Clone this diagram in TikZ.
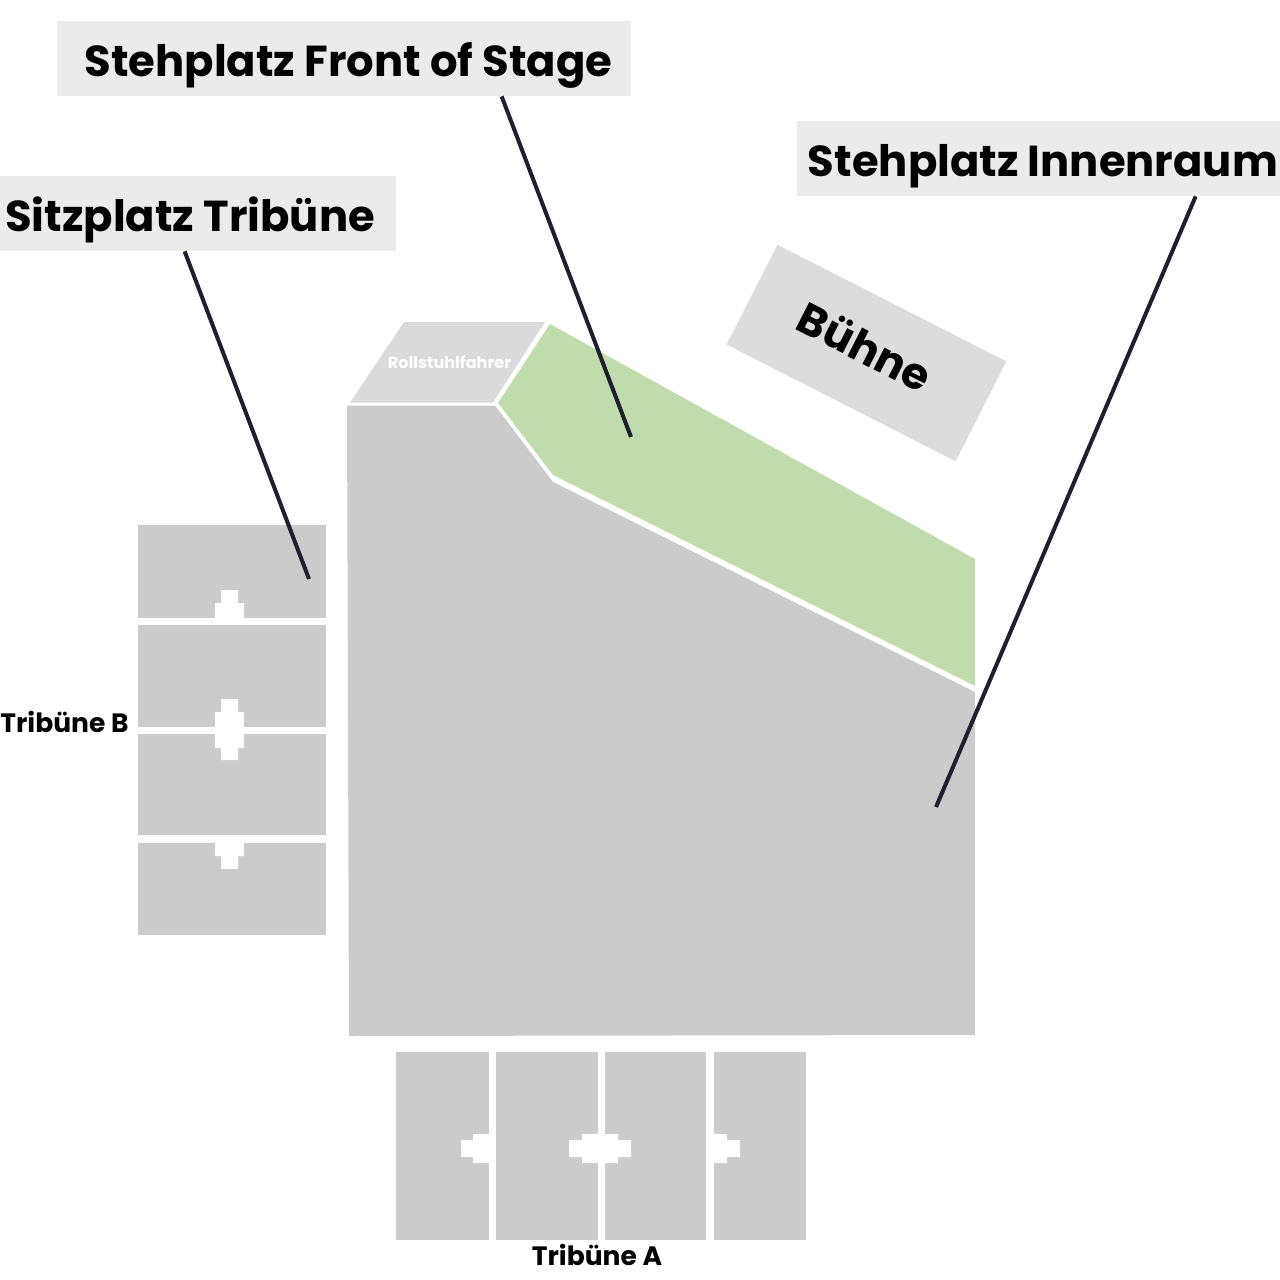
\documentclass[tikz,border=0pt]{standalone}
\usepackage{fontspec}
\setmainfont{Poppins}
\definecolor{seatgray}{HTML}{CBCBCB}
\definecolor{wheelgray}{HTML}{DADADA}
\definecolor{stagegray}{HTML}{DCDCDC}
\definecolor{frontgreen}{HTML}{C1DCAC}
\definecolor{boxgray}{HTML}{EBEBEB}
\definecolor{leadercol}{HTML}{1F1F2E}
\def\px{0.02cm}
\newcommand{\lowertext}[1]{\raisebox{-10.4pt}[0pt][0pt]{#1}}
\tikzset{
  labelbox/.style={fill=boxgray,inner sep=0pt,font=\fontsize{24.65}{28}\selectfont\bfseries,text=black},
  leader/.style={draw=leadercol,line width=4*\px},
  seatblock/.style={fill=seatgray},
  sidelabel/.style={inner sep=0pt,font=\fontsize{15.1}{18}\selectfont\bfseries,text=black}
}
\begin{document}
\begin{tikzpicture}[x=\px,y=-\px]
  \useasboundingbox (0,0) rectangle (1280,1280);
  % main floor
  \fill[seatblock] (347,405.5) -- (495,405.5) -- (553,482) -- (975,692) -- (975,1035) -- (349,1036) -- cycle;
  \fill[frontgreen] (550,324) -- (975,559) -- (975,686) -- (553,475) -- (498,403) -- cycle;
  \fill[wheelgray] (404,322) -- (545,322) -- (493,402.5) -- (350,402.5) -- cycle;
  \node[white,inner sep=0pt,font=\fontsize{9.15}{11}\selectfont\bfseries] (wheel) at (449.5,362) {Rollstuhlfahrer};
  % stage
  \node[fill=stagegray,rotate=-27,minimum width=257*\px,minimum height=112*\px,inner sep=0pt,font=\fontsize{24.8}{28}\selectfont\bfseries] (stage) at (866.5,353) {\raisebox{6pt}{Bühne}\hspace*{4.5pt}};
  % tribune B
  \foreach \ya/\yb in {525/618,625/727,734/835,843/935}
    \fill[seatblock] (138,\ya) rectangle (326,\yb);
  \fill[white] (221,590) -- (238,590) -- (238,603) -- (244,603) -- (244,618) -- (215,618) -- (215,603) -- (221,603) -- cycle;
  \fill[white] (221,699) -- (238,699) -- (238,712) -- (244,712) -- (244,748) -- (238,748) -- (238,760) -- (221,760) -- (221,748) -- (215,748) -- (215,712) -- (221,712) -- cycle;
  \fill[white] (215,843) -- (244,843) -- (244,856) -- (238,856) -- (238,869) -- (221,869) -- (221,856) -- (215,856) -- cycle;
  \node[sidelabel] (tribB) at (64.5,721.5) {Tribüne B};
  % tribune A
  \foreach \xa/\xb in {396/489,496/598,605/706,714/806}
    \fill[seatblock] (\xa,1052) rectangle (\xb,1240);
  \fill[white] (489,1134) -- (473,1134) -- (473,1140) -- (461,1140) -- (461,1157) -- (473,1157) -- (473,1163) -- (489,1163) -- cycle;
  \fill[white] (582,1134) -- (618,1134) -- (618,1140) -- (631,1140) -- (631,1157) -- (618,1157) -- (618,1163) -- (582,1163) -- (582,1157) -- (569,1157) -- (569,1140) -- (582,1140) -- cycle;
  \fill[white] (714,1134) -- (727,1134) -- (727,1140) -- (740,1140) -- (740,1157) -- (727,1157) -- (727,1163) -- (714,1163) -- cycle;
  \node[sidelabel] (tribA) at (597,1254.5) {Tribüne A};
  % labels
  \node[labelbox,minimum width=574*\px,minimum height=75*\px] (frontlabel) at (344,58.5) {\lowertext{\hspace*{5pt}Stehplatz Front of Stage}};
  \node[labelbox,minimum width=483*\px,minimum height=75*\px] (innenlabel) at (1038.5,158.5) {\lowertext{\hspace*{5pt}Stehplatz Innenraum}};
  \node[labelbox,minimum width=396*\px,minimum height=75*\px] (sitzlabel) at (198,213.5) {\lowertext{Sitzplatz Tribüne\hspace*{9pt}}};
  \coordinate (frontend) at (631,437);
  \coordinate (innenend) at (936,807);
  \coordinate (sitzend) at (309,579);
  \draw[leader] (frontlabel.south west) ++(445,0) -- (frontend);
  \draw[leader] (innenlabel.south west) ++(399,0) -- (innenend);
  \draw[leader] (sitzlabel.south west) ++(185,0) -- (sitzend);
\end{tikzpicture}
\end{document}
